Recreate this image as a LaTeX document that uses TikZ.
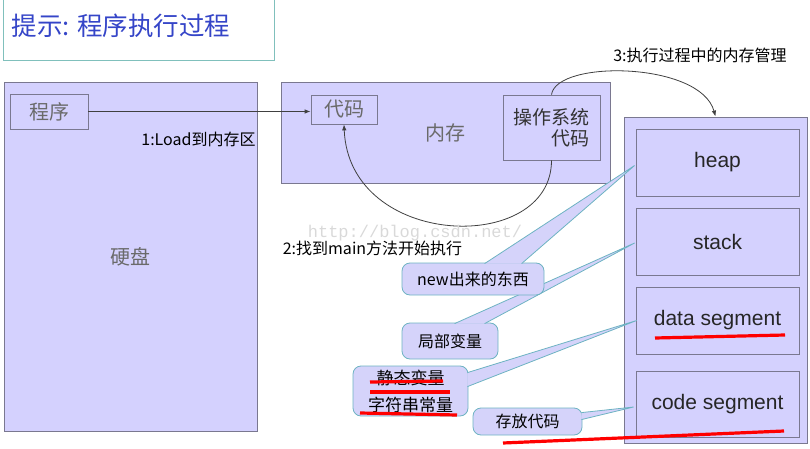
\documentclass[tikz,border=0pt]{standalone}
\usepackage{fontspec}
\setmainfont{Noto Sans CJK SC}
\newfontfamily\arialfont{Liberation Sans}
\newfontfamily\wmfont{Liberation Mono}
\usepackage{tikz}
\usetikzlibrary{arrows.meta, positioning, calc}
\usepackage{xcolor}
\definecolor{hw-fill}{HTML}{D4D1FE}
\definecolor{hw-line}{HTML}{7A7890}
\definecolor{call-fill}{HTML}{D5D3FA}
\definecolor{call-line}{HTML}{6DB3C2}
\definecolor{title-line}{HTML}{80C0BC}
\definecolor{title-text}{HTML}{3545C8}
\definecolor{label-gray}{HTML}{6A6A6A}
\definecolor{arrow-line}{HTML}{404040}
\newcommand{\callwedge}[3]{%  \callwedge{base a}{base b}{tip}
  \fill[call-fill] (#1) -- (#3) -- (#2) -- cycle;
  \draw[call-line, line width=0.8pt] (#1) -- (#3) -- (#2);}

\begin{document}
\begin{tikzpicture}[x=1pt, y=-1pt,
    hw/.style={draw=hw-line, fill=hw-fill, line width=0.8pt, inner sep=0pt},
    graytext/.style={text=label-gray, font=\fontsize{20}{24}\selectfont},
    seg/.style={hw, minimum width=163, minimum height=67,
                font=\arialfont\fontsize{21}{24}\selectfont, text=black!85},
    callbox/.style={draw=call-line, fill=call-fill, line width=0.8pt,
                    rounded corners=8pt, inner sep=0pt, font=\fontsize{16}{19}\selectfont},
    stagetext/.style={font=\fontsize{16}{19}\selectfont, inner sep=0pt},
    flow/.style={draw=arrow-line, line width=0.8pt, -{Latex[length=6pt,width=4.5pt]}},
    marker/.style={draw=red, line width=3.2pt}]
    \useasboundingbox (0,0) rectangle (810,449);
    % ── title
    \node[draw=title-line, fill=white, line width=0.8pt, inner sep=0pt,
          minimum width=271, minimum height=66] (title-box) at (138.5,27) {};
    \node[font=\fontsize{25.5}{30}\selectfont, text=title-text, inner sep=0pt]
          (title) at (121,26) {提示: 程序执行过程};
    % ── hard disk
    \node[hw, graytext, minimum width=253, minimum height=349] (disk) at (130.5,256.5) {硬盘};
    \node[hw, graytext, minimum width=78, minimum height=35] (prog) at (49,111.5) {程序};
    \node[stagetext] (load) at (198.5,139) {1:Load到内存区};
    % ── memory
    \node[hw, graytext, minimum width=329, minimum height=101] (mem) at (445.5,132.5) {内存};
    \node[hw, graytext, minimum width=66, minimum height=29] (code) at (344,109.5) {代码};
    \node[hw, minimum width=97, minimum height=65, align=right, text=black!80,
          font=\fontsize{19}{21}\selectfont] (os) at (551.5,127.5) {操作系统\\代码};
    % ── memory layout at run time
    \node[hw, minimum width=183, minimum height=326] (ram) at (715.5,280) {};
    \node[seg] (heap) at (717.5,162.5) {heap};
    \node[seg] (stack) at (717.5,241.5) {stack};
    \node[seg] (data) at (717.5,320.5) {data segment};
    \node[seg, minimum height=66] (codeseg) at (717.5,404) {code segment};
    \coordinate (heap-tip) at ($(heap.west)+(-1,3)$);
    \coordinate (stack-tip) at ($(stack.west)+(-1,1.5)$);
    \coordinate (data-tip) at ($(data.west)+(1,0)$);
    \coordinate (codeseg-tip) at ($(codeseg.west)+(-2,3)$);
    % ── steps
    \draw[flow] (prog.east) -- (prog.east -| code.west);
    \draw[flow] (os.north) .. controls +(5,-35) and +(-15,-55) .. (ram.north);
    \draw[flow] (os.south) .. controls +(0,95) and +(5,125) .. (code.south);
    \node[stagetext] (manage) at (700,55.5) {3:执行过程中的内存管理};
    \node[stagetext] (find-main) at (372.5,248) {2:找到main方法开始执行};
    % ── callouts
    \node[callbox, minimum width=115, minimum height=50, align=center,
          font=\fontsize{17}{27}\selectfont] (static-var) at (410.5,391) {静态变量\\字符串常量};
    \callwedge{$(static-var.north east)+(-1,7)$}{$(static-var.north east)+(-1,21)$}{data-tip}
    \node[callbox, minimum width=109, minimum height=27] (code-store) at (527.5,421.5) {存放代码};
    \callwedge{$(code-store.north east)+(-1,5)$}{$(code-store.north east)+(-1,12)$}{codeseg-tip}
    \node[callbox, minimum width=96, minimum height=36] (local-var) at (450,341) {局部变量};
    \callwedge{$(local-var.north west)+(53,1)$}{$(local-var.north west)+(83,1)$}{stack-tip}
    \node[callbox, minimum width=142, minimum height=32] (new-obj) at (473,279) {new出来的东西};
    \callwedge{$(new-obj.north west)+(83,1)$}{$(new-obj.north west)+(120,1)$}{heap-tip}
    % ── red marks
    \draw[marker] (655,338) -- (785,335);
    \draw[marker] (370,382) -- (443,381);
    \draw[marker] (370,392) -- (450,392);
    \draw[marker] (360,413) -- (457,415);
    \draw[marker] (503,443) -- (784,431);
    % ── watermark
    \node[font=\wmfont\fontsize{17}{20}\selectfont, text=gray!30, inner sep=0pt]
          (watermark) at (415,233) {http://blog.csdn.net/};
\end{tikzpicture}
\end{document}
